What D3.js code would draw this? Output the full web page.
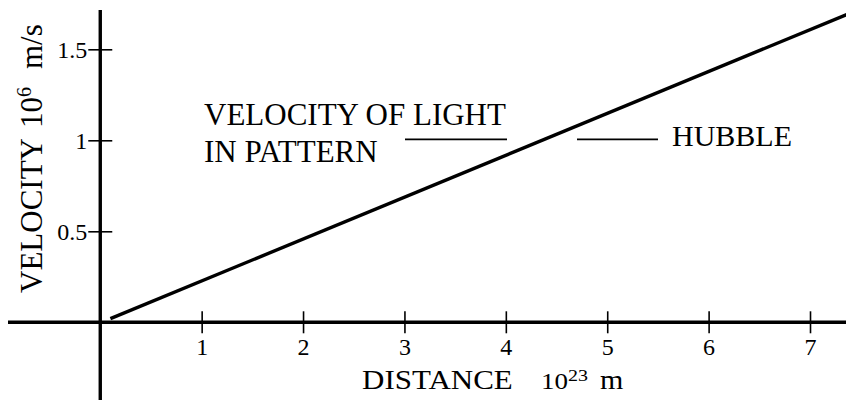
<!DOCTYPE html>
<html>
<head>
<meta charset="utf-8">
<script src="https://cdn.jsdelivr.net/npm/d3@7"></script>
<style>
  html, body { margin: 0; padding: 0; background: #fff; }
  svg { display: block; }
  text { font-family: "Liberation Serif", "Times New Roman", serif; fill: #000; }
</style>
</head>
<body>
<svg id="chart" width="846" height="400"></svg>
<script>
// ---- data ----
const xTicks = [1, 2, 3, 4, 5, 6, 7];
const xTickLabels = ["1", "2", "3", "4", "5", "6", "7"];
const yTicks = [0.5, 1, 1.5];
const yTickLabels = ["0.5", "1", "1.5"];
const hubbleDistance = [0.1, 7.4];     // 10^23 m
const hubbleVelocity = [0.02, 1.70];   // 10^6 m/s
const xDomain = [-0.91, 7.355];
const yDomain = [-0.427, 1.716];

// ---- setup ----
const svg = d3.select("#chart");
const W = 846, H = 400;
svg.append("rect").attr("width", W).attr("height", H).attr("fill", "#fff");

const x = d3.scaleLinear().domain(xDomain).range([8, 846]);
const y = d3.scaleLinear().domain(yDomain).range([400, 10]);

// ---- axis lines (cross through origin) ----
svg.append("line")
  .attr("x1", x(xDomain[0])).attr("x2", x(xDomain[1]))
  .attr("y1", y(0)).attr("y2", y(0))
  .attr("stroke", "#000").attr("stroke-width", 3.4);
svg.append("line")
  .attr("x1", x(0)).attr("x2", x(0))
  .attr("y1", y(yDomain[1])).attr("y2", y(yDomain[0]))
  .attr("stroke", "#000").attr("stroke-width", 3.4);

// ---- x ticks ----
const gx = svg.append("g")
  .attr("transform", `translate(0,${y(0) - 11})`)
  .call(d3.axisBottom(x).tickValues(xTicks).tickSize(22)
        .tickFormat((d, i) => xTickLabels[i]));
gx.select(".domain").remove();
gx.selectAll(".tick line").attr("stroke", "#000").attr("stroke-width", 1.6);
gx.selectAll(".tick text")
  .attr("y", 44).attr("dy", 0)
  .attr("font-size", 24)
  .attr("font-family", "Liberation Serif, serif")
  .attr("fill", "#000");

// ---- y ticks ----
const gy = svg.append("g")
  .attr("transform", `translate(${x(0) + 12},0)`)
  .call(d3.axisLeft(y).tickValues(yTicks).tickSize(24)
        .tickFormat((d, i) => yTickLabels[i]));
gy.select(".domain").remove();
gy.selectAll(".tick line").attr("stroke", "#000").attr("stroke-width", 1.6);
gy.selectAll(".tick text")
  .attr("x", -25).attr("dy", "0.36em")
  .attr("font-size", 24)
  .attr("font-family", "Liberation Serif, serif")
  .attr("fill", "#000");

// ---- Hubble line ----
const pts = hubbleDistance.map((d, i) => [d, hubbleVelocity[i]]);
svg.append("path")
  .datum(pts)
  .attr("d", d3.line().x(d => x(d[0])).y(d => y(d[1])))
  .attr("fill", "none").attr("stroke", "#000").attr("stroke-width", 3.4);

// ---- annotations ----
svg.append("text").attr("x", 204).attr("y", 125).attr("font-size", 31)
  .text("VELOCITY OF LIGHT");
svg.append("text").attr("x", 204).attr("y", 162).attr("font-size", 31)
  .text("IN PATTERN");
svg.append("line").attr("x1", 405).attr("x2", 507).attr("y1", 139.3).attr("y2", 139.3)
  .attr("stroke", "#000").attr("stroke-width", 1.8);
svg.append("line").attr("x1", 577).attr("x2", 658).attr("y1", 139.3).attr("y2", 139.3)
  .attr("stroke", "#000").attr("stroke-width", 1.8);
svg.append("text").attr("x", 672).attr("y", 146).attr("font-size", 30)
  .text("HUBBLE");

// ---- axis titles ----
const xt = svg.append("text")
  .attr("transform", "translate(362,389) scale(1,0.88)")
  .attr("font-size", 31);
xt.append("tspan").attr("x", 0).text("DISTANCE");
xt.append("tspan").attr("x", 179).attr("font-size", 27).text("10");
xt.append("tspan").attr("x", 206).attr("dy", -9).attr("font-size", 20).text("23");
xt.append("tspan").attr("x", 238).attr("dy", 9).attr("font-size", 30).text("m");

const yt = svg.append("text")
  .attr("transform", "translate(42,293) rotate(-90)")
  .attr("font-size", 31);
yt.append("tspan").attr("x", 0).text("VELOCITY");
yt.append("tspan").attr("x", 165).text("10");
yt.append("tspan").attr("x", 196).attr("dy", -11).attr("font-size", 20).text("6");
yt.append("tspan").attr("x", 224).attr("dy", 11).text("m/s");
</script>
</body>
</html>
